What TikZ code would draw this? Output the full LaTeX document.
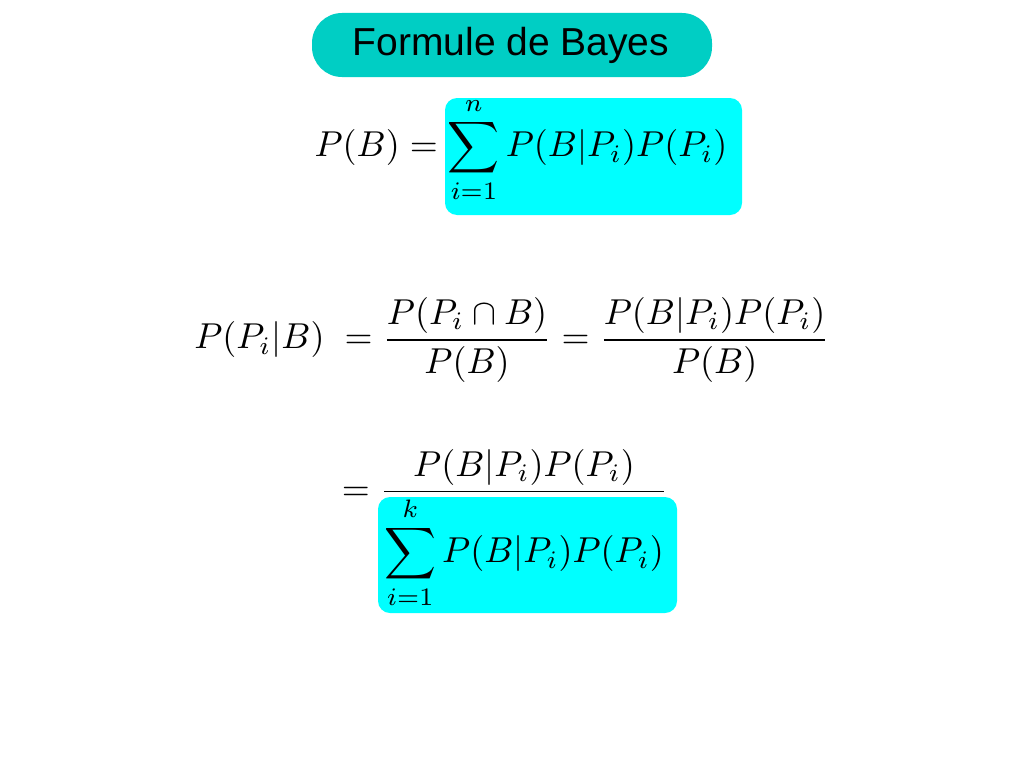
\documentclass[tikz,border=0pt]{standalone}
\usepackage{amsmath}
\usepackage{fontspec}
\newfontfamily\sansf{Liberation Sans}
\definecolor{titlec}{RGB}{0,206,196}
\definecolor{boxc}{RGB}{0,255,255}
\begin{document}
\begin{tikzpicture}[x=1pt,y=-1pt,
  hl/.style={fill=boxc,rounded corners=12pt},
  eq/.style={scale=3.6,inner sep=0pt}]
\useasboundingbox[fill=white] (0,0) rectangle (1024,768);
\fill[titlec,rounded corners=30pt] (312,13) rectangle (712,77);
\node[font=\sansf\fontsize{39}{46}\selectfont] (title) at (511,45) {Formule de Bayes};
\fill[hl] (445,98) rectangle (742,215);
\fill[hl] (378,497) rectangle (677,613);
\node[eq] (e1) at (521,150) {$\displaystyle P(B)=\sum_{i=1}^{n}P(B|P_i)P(P_i)$};
\node[eq] (e2) at (512,340) {$\displaystyle P(P_i|B)\;=\frac{P(P_i\cap B)}{P(B)}=\frac{P(B|P_i)P(P_i)}{P(B)}$};
\node[eq] (e3) at (505,529) {$\displaystyle =\frac{P(B|P_i)P(P_i)}{\displaystyle\sum_{i=1}^{k}P(B|P_i)P(P_i)}$};
\end{tikzpicture}
\end{document}
